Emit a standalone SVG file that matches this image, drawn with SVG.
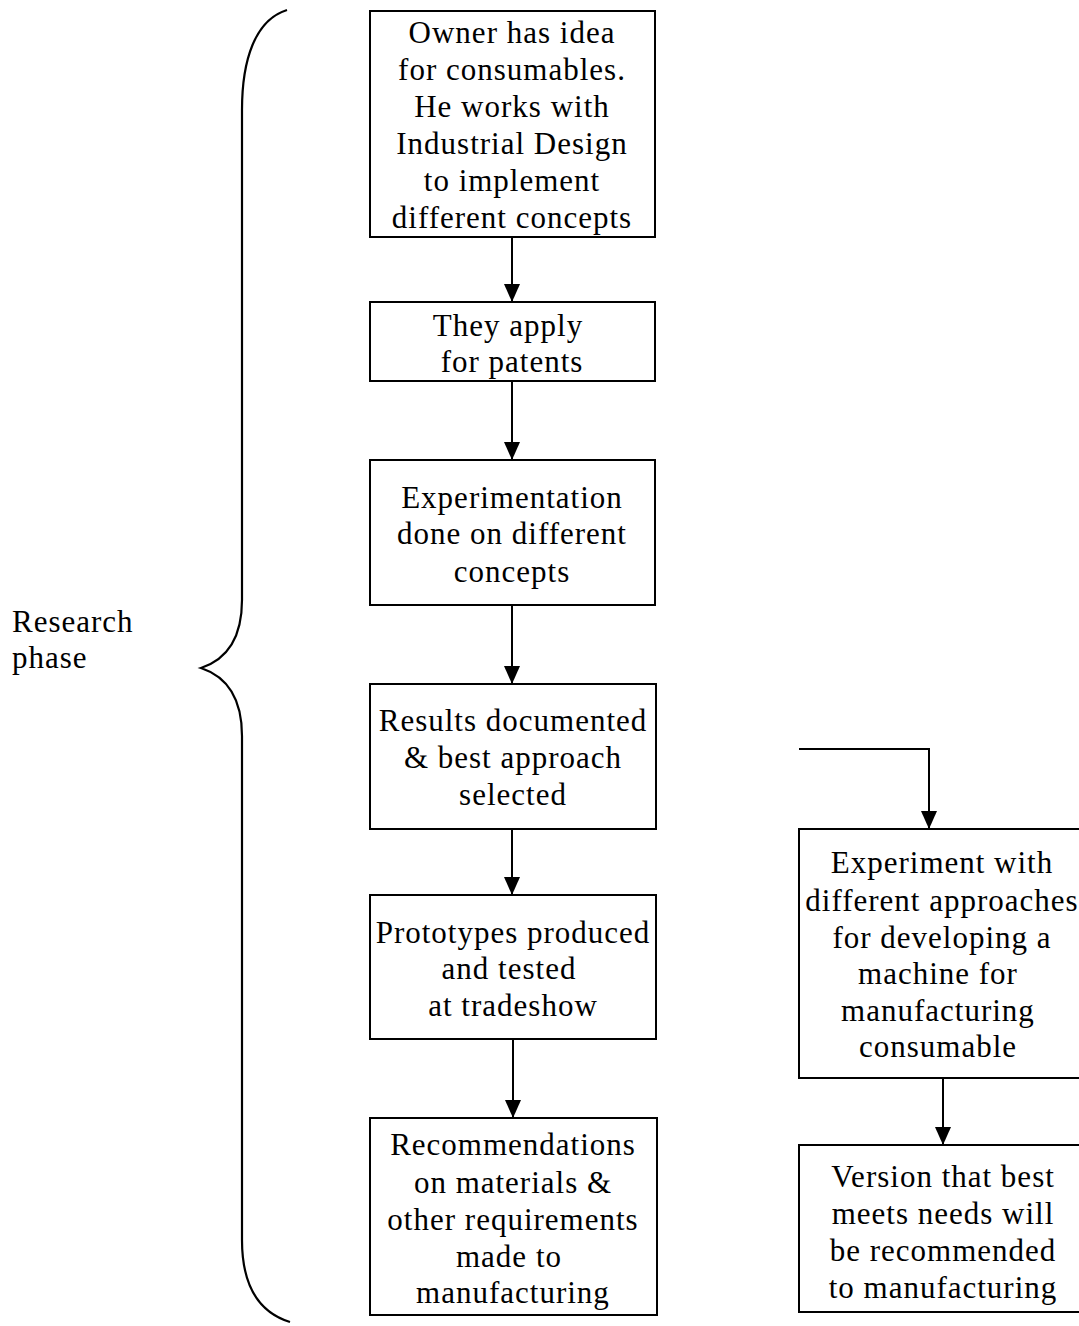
<svg xmlns="http://www.w3.org/2000/svg" width="1079" height="1326" viewBox="0 0 1079 1326">
  <style>
    .box { fill: #ffffff; stroke: #000000; stroke-width: 2; }
    .lbl { font-family: "Liberation Serif", "Times New Roman", serif; font-size: 31px; letter-spacing: 1px; fill: #000000; text-anchor: middle; }
    .side { font-family: "Liberation Serif", "Times New Roman", serif; font-size: 31px; letter-spacing: 1px; fill: #000000; }
    .wire { fill: none; stroke: #000000; stroke-width: 2; }
    .brace { fill: none; stroke: #000000; stroke-width: 2.2; }
  </style>
  <defs>
    <!-- filled triangular head, drawn along +x so orient="auto" points it down the line -->
    <marker id="arrow" markerWidth="18" markerHeight="16" refX="18" refY="8" orient="auto" markerUnits="userSpaceOnUse" viewBox="0 0 18 16">
      <path d="M0,0 L18,8 L0,16 Z" fill="#000000"/>
    </marker>
  </defs>

  <rect width="1079" height="1326" fill="#ffffff"/>

  <!-- phase brace and label -->
  <g id="research-phase">
    <path class="brace" d="M287,10 C255,20 242,60 242,110 L242,600 C242,640 225,660 201,668 C225,676 242,696 242,736 L242,1240 C242,1285 258,1312 290,1322"/>
    <text class="side" x="12" y="632">Research</text>
    <text class="side" x="12" y="668">phase</text>
  </g>

  <!-- connectors -->
  <g id="connectors">
    <line class="wire" x1="512" y1="237" x2="512" y2="302" marker-end="url(#arrow)"/>
    <line class="wire" x1="512" y1="381" x2="512" y2="460" marker-end="url(#arrow)"/>
    <line class="wire" x1="512" y1="605" x2="512" y2="684" marker-end="url(#arrow)"/>
    <line class="wire" x1="512" y1="829" x2="512" y2="895" marker-end="url(#arrow)"/>
    <line class="wire" x1="513" y1="1039" x2="513" y2="1118" marker-end="url(#arrow)"/>
    <polyline class="wire" points="799,749 929,749 929,829" marker-end="url(#arrow)"/>
    <line class="wire" x1="943" y1="1078" x2="943" y2="1145" marker-end="url(#arrow)"/>
  </g>

  <g id="idea">
    <rect class="box" x="370" y="11" width="285" height="226"/>
    <text class="lbl" x="512" y="43">Owner has idea</text>
    <text class="lbl" x="512" y="80">for consumables.</text>
    <text class="lbl" x="512" y="117">He works with</text>
    <text class="lbl" x="512" y="154">Industrial Design</text>
    <text class="lbl" x="512" y="191">to implement</text>
    <text class="lbl" x="512" y="228">different concepts</text>
  </g>

  <g id="patents">
    <rect class="box" x="370" y="302" width="285" height="79"/>
    <text class="lbl" x="508" y="336">They apply</text>
    <text class="lbl" x="512" y="372">for patents</text>
  </g>

  <g id="experimentation">
    <rect class="box" x="370" y="460" width="285" height="145"/>
    <text class="lbl" x="512" y="508">Experimentation</text>
    <text class="lbl" x="512" y="544">done on different</text>
    <text class="lbl" x="512" y="582">concepts</text>
  </g>

  <g id="results">
    <rect class="box" x="370" y="684" width="286" height="145"/>
    <text class="lbl" x="513" y="731">Results documented</text>
    <text class="lbl" x="513" y="768">&amp; best approach</text>
    <text class="lbl" x="513" y="805">selected</text>
  </g>

  <g id="prototypes">
    <rect class="box" x="370" y="895" width="286" height="144"/>
    <text class="lbl" x="513" y="943">Prototypes produced</text>
    <text class="lbl" x="509" y="979">and tested</text>
    <text class="lbl" x="513" y="1016">at tradeshow</text>
  </g>

  <g id="recommendations">
    <rect class="box" x="370" y="1118" width="287" height="197"/>
    <text class="lbl" x="513" y="1155">Recommendations</text>
    <text class="lbl" x="513" y="1193">on materials &amp;</text>
    <text class="lbl" x="513" y="1230">other requirements</text>
    <text class="lbl" x="509" y="1267">made to</text>
    <text class="lbl" x="513" y="1303">manufacturing</text>
  </g>

  <g id="machine-experiment">
    <rect class="box" x="799" y="829" width="281" height="249"/>
    <text class="lbl" x="942" y="873">Experiment with</text>
    <text class="lbl" x="942" y="911">different approaches</text>
    <text class="lbl" x="942" y="948">for developing a</text>
    <text class="lbl" x="938" y="984">machine for</text>
    <text class="lbl" x="938" y="1021">manufacturing</text>
    <text class="lbl" x="938" y="1057">consumable</text>
  </g>

  <g id="best-version">
    <rect class="box" x="799" y="1145" width="281" height="167"/>
    <text class="lbl" x="943" y="1187">Version that best</text>
    <text class="lbl" x="943" y="1224">meets needs will</text>
    <text class="lbl" x="943" y="1261">be recommended</text>
    <text class="lbl" x="943" y="1298">to manufacturing</text>
  </g>
</svg>
